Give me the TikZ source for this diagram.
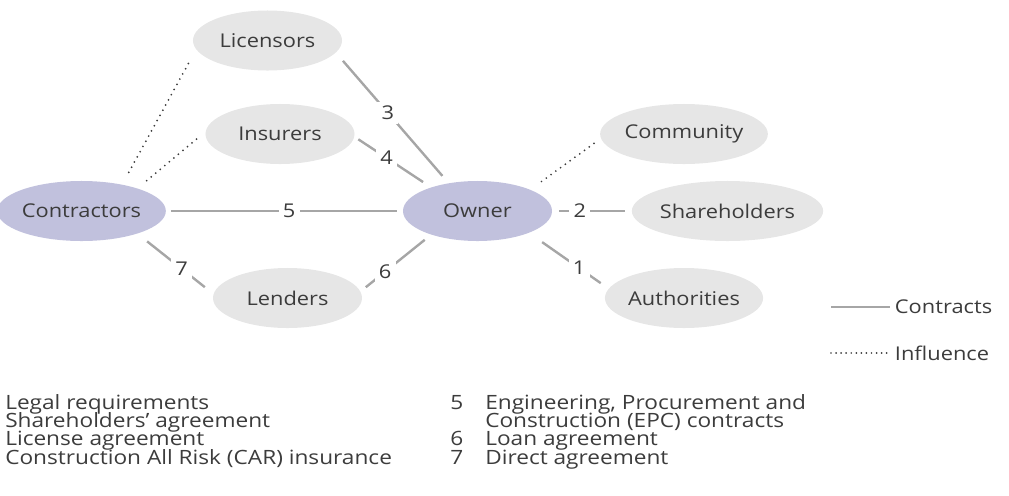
\documentclass[tikz,border=0pt]{standalone}
\usepackage{fontspec}
\setmainfont{Open Sans}[FakeStretch=1.15]
\usetikzlibrary{shapes.geometric,positioning}

\begin{document}
\begin{tikzpicture}[x=0.025cm, y=-0.025cm,
    font=\fontsize{13.5}{16}\selectfont,
    text=testo,
    party/.style={ellipse, fill=grigio, minimum width=3.725cm,
        minimum height=1.5cm, inner sep=0pt, outer sep=0pt},
    main/.style={party, fill=viola},
    contract/.style={draw=linea, line width=1.7pt},
    influence/.style={draw=testo, line width=1.4pt, line cap=round,
        dash pattern=on 0pt off 4.2pt},
    num/.style={fill=white, inner sep=3pt},
    item/.style={anchor=base west, inner sep=0pt,
        font=\fontsize{14}{16}\selectfont}]
\definecolor{grigio}{RGB}{230,230,230}
\definecolor{viola}{RGB}{193,193,221}
\definecolor{linea}{RGB}{166,166,166}
\definecolor{testo}{RGB}{60,60,60}

\useasboundingbox (0,0) rectangle (1009,495);

% ======================================================
% PARTI
% ======================================================
\node[main]  (con) at (81.5,211)  {Contractors};
\node[main]  (own) at (477.5,211) {Owner};
\node[party] (lic) at (267.5,40.5) {Licensors};
\node[party] (ins) at (280,134)   {Insurers};
\node[party] (len) at (287.5,298) {Lenders};
\node[party] (com) at (684,134)   {Community};
\node[party] (sha) at (727.5,211) {Shareholders};
\node[party] (aut) at (684,298)   {Authorities};

% contratti
\draw[contract, shorten <=7.8pt, shorten >=7pt]
  (lic.-10) -- node[num, pos=0.46] {3} (own.136);
\draw[contract, shorten <=3.5pt, shorten >=7pt]
  (ins.-2) -- node[num, pos=0.42] {4} (own.153);
\draw[contract, shorten <=3.5pt, shorten >=4.2pt]
  (con.east) -- node[num, pos=0.52] {5} (own.west);
\draw[contract, shorten <=9pt, shorten >=8pt]
  (con.-22) -- node[num, pos=0.58] {7} (len.177);
\draw[contract, shorten <=5pt, shorten >=6pt]
  (len.5) -- node[num, pos=0.35] {6} (own.207);
\draw[contract, shorten <=5pt, shorten >=5pt]
  (own.east) -- node[num, pos=0.35] {2} (sha.west);
\draw[contract, shorten <=11.6pt, shorten >=7pt]
  (own.-23) -- node[num, pos=0.63] {1} (aut.173);

% influenze
\draw[influence, shorten <=10pt, shorten >=11pt] (con.33) -- (lic.187);
\draw[influence, shorten <=8.7pt, shorten >=7pt] (con.22) -- (ins.178);
\draw[influence, shorten <=10pt, shorten >=3.5pt] (own.22) -- (com.183);

% ======================================================
% LEGENDA
% ======================================================
\node[anchor=west] (lc) at (890,307) {Contracts};
\node[anchor=west] (li) at (890,353) {Influence};
\coordinate (lc0) at (831,307);
\coordinate (li0) at (831,353);
\draw[contract]  (lc0) -- (lc.west);
\draw[influence, dash pattern=on 0pt off 3.6pt] (li0) -- (li.west);

% elenco a sinistra
\foreach \t [count=\i] in {Legal requirements,
    Shareholders’ agreement,
    License agreement,
    Construction All Risk (CAR) insurance} {
  \node[item] (a\i) at (5,409+18.4*\i-18.4) {\t};
}

% elenco a destra
\node[item] (n5)  at (450,409)   {5};
\node[item] (t5)  at (485,409)   {Engineering, Procurement and};
\node[item] (t5b) at (485,427.4) {Construction (EPC) contracts};
\node[item] (n6)  at (450,445.8) {6};
\node[item] (t6)  at (485,445.8) {Loan agreement};
\node[item] (n7)  at (450,464.2) {7};
\node[item] (t7)  at (485,464.2) {Direct agreement};

\end{tikzpicture}
\end{document}
